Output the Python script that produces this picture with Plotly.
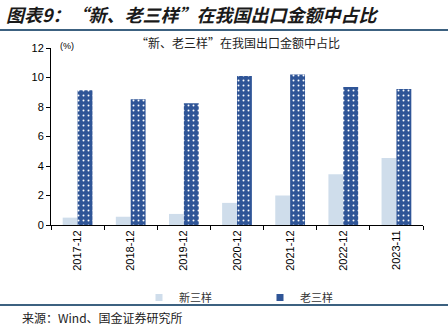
import plotly.graph_objects as go

categories = ["2017-12", "2018-12", "2019-12", "2020-12", "2021-12", "2022-12", "2023-11"]
new_three = [0.5, 0.56, 0.75, 1.5, 2.0, 3.44, 4.54]
old_three = [9.13, 8.52, 8.25, 10.1, 10.2, 9.36, 9.22]
y_ticks = [0, 2, 4, 6, 8, 10, 12]

W, H = 448, 330
L, R, T, B = 51, 25, 48, 105
ph = H - T - B

LIGHT = "#CFDDEB"
DARK = "#2F5597"

def py(pix):
    # pixel row -> paper y
    return (H - B - pix) / ph

def px(pix):
    return (pix - L) / (W - L - R)

CJK = "Noto Sans CJK SC"
fig = go.Figure()
fig.add_trace(go.Bar(
    x=categories, y=new_three, name="新三样", showlegend=False,
    marker=dict(color=LIGHT, line=dict(width=0)),
))
fig.add_trace(go.Bar(
    x=categories, y=old_three, name="老三样", showlegend=False,
    marker=dict(color=DARK, line=dict(width=0),
                pattern=dict(shape=".", fgcolor="#FFFFFF", bgcolor=DARK,
                             size=5, solidity=0.12, fillmode="replace")),
))
# compact square legend keys
for name, col in [("新三样", LIGHT), ("老三样", DARK)]:
    fig.add_trace(go.Scatter(x=[None], y=[None], mode="markers", name=name,
                             marker=dict(symbol="square", size=7, color=col)))

fig.update_layout(
    width=W, height=H,
    margin=dict(l=L, r=R, t=T, b=B),
    paper_bgcolor="white", plot_bgcolor="white",
    barmode="group", bargap=0.44, bargroupgap=0,
    font=dict(family="Arial, Liberation Sans", size=11, color="#000000"),
    showlegend=True,
    legend=dict(orientation="h", x=px(139), y=py(283), xanchor="left", yanchor="top",
                font=dict(family=CJK, size=11, color="#333333"),
                entrywidth=76, itemwidth=30, traceorder="normal",
                bgcolor="rgba(0,0,0,0)"),
    xaxis=dict(type="category", showline=True, linecolor="#000000", linewidth=1,
               ticks="outside", tickson="boundaries", ticklen=4, tickcolor="#000000",
               tickangle=-90, tickfont=dict(size=11), showgrid=False),
    yaxis=dict(range=[0, 12], tickvals=y_ticks, showline=True, linecolor="#000000",
               linewidth=1, ticks="outside", ticklen=4, tickcolor="#000000",
               showgrid=False, zeroline=False, tickfont=dict(size=11)),
)

fig.add_annotation(text="<b><i>图表9：“新、老三样”在我国出口金额中占比</i></b>",
                   xref="paper", yref="paper", x=px(4), y=py(14), xanchor="left", yanchor="middle",
                   showarrow=False, font=dict(family=CJK, size=18, color="#1a1a1a"))
fig.add_annotation(text="“新、老三样”在我国出口金额中占比",
                   xref="paper", yref="paper", x=px(238), y=py(42), xanchor="center", yanchor="middle",
                   showarrow=False, font=dict(family=CJK, size=12, color="#222222"))
fig.add_annotation(text="(%)", xref="paper", yref="paper", x=px(58), y=py(46),
                   xanchor="left", yanchor="middle", showarrow=False,
                   font=dict(size=9, color="#000000"))
fig.add_annotation(text="来源：Wind、国金证券研究所",
                   xref="paper", yref="paper", x=px(20), y=py(317), xanchor="left", yanchor="middle",
                   showarrow=False, font=dict(family=CJK, size=12, color="#222222"))

for ypix, w in [(30, 2), (305, 2)]:
    fig.add_shape(type="line", xref="paper", yref="paper",
                  x0=px(0), x1=px(W), y0=py(ypix), y1=py(ypix),
                  line=dict(color="#3C6180", width=w))

fig.write_html("out.html")
